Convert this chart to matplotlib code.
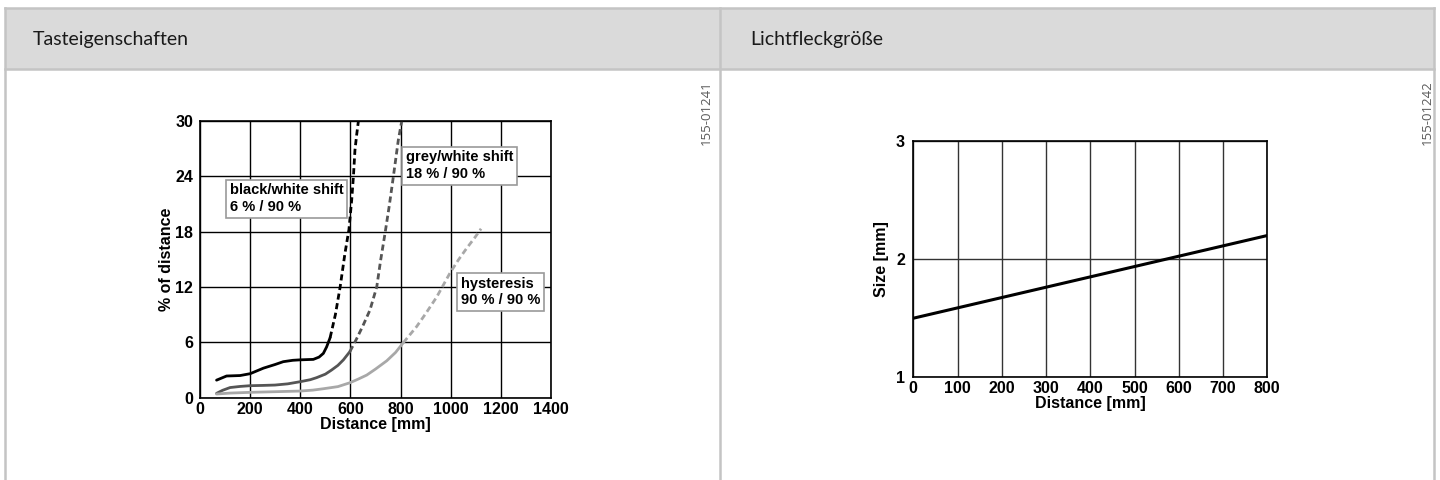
import matplotlib
matplotlib.use("Agg")
import matplotlib.pyplot as plt
from matplotlib.patches import Rectangle
from matplotlib.lines import Line2D

# ---------------- data ----------------
# Tasteigenschaften (left chart)
bw_x = [66, 106, 160, 200, 253, 300, 332, 370, 399, 452, 475, 492, 505, 519]
bw_y = [1.9, 2.35, 2.4, 2.6, 3.2, 3.6, 3.9, 4.05, 4.1, 4.15, 4.4, 4.8, 5.5, 6.5]
bw_dx = [519, 540, 559, 578, 594, 605, 612, 618, 625, 632]
bw_dy = [6.5, 9.0, 12.0, 15.6, 18.2, 21.4, 24.0, 26.8, 28.5, 30.0]

gw_x = [66, 90, 120, 160, 200, 250, 299, 350, 399, 440, 465, 500, 525, 550, 572, 598]
gw_y = [0.47, 0.8, 1.1, 1.22, 1.3, 1.33, 1.37, 1.5, 1.73, 1.95, 2.17, 2.55, 3.0, 3.5, 4.1, 5.0]
gw_dx = [598, 625, 650, 678, 705, 720, 738, 755, 771, 791, 805]
gw_dy = [5.0, 6.4, 7.8, 9.5, 12.0, 14.8, 17.8, 20.8, 23.9, 27.9, 30.0]

hy_x = [66, 120, 200, 300, 399, 450, 492, 550, 598, 630, 665, 700, 745, 780, 811]
hy_y = [0.4, 0.5, 0.58, 0.65, 0.72, 0.82, 0.97, 1.2, 1.62, 2.0, 2.45, 3.1, 4.0, 4.9, 5.96]
hy_dx = [811, 864, 900, 944, 997, 1030, 1064, 1095, 1121]
hy_dy = [5.96, 7.7, 9.1, 10.9, 13.5, 14.9, 16.2, 17.3, 18.3]

left_xticks = [0, 200, 400, 600, 800, 1000, 1200, 1400]
left_yticks = [0, 6, 12, 18, 24, 30]

labels = ["black/white shift\n6 % / 90 %",
          "grey/white shift\n18 % / 90 %",
          "hysteresis\n90 % / 90 %"]
label_pos = [(120, 23.2), (820, 26.8), (1040, 13.1)]

# Lichtfleckgröße (right chart)
spot_x = [0, 800]
spot_y = [1.5, 2.2]
right_xticks = [0, 100, 200, 300, 400, 500, 600, 700, 800]
right_yticks = [1, 2, 3]

headers = ["Tasteigenschaften", "Lichtfleckgröße"]
codes = ["155-01241", "155-01242"]

# ---------------- style ----------------
plt.rcParams["font.family"] = ["Liberation Sans", "DejaVu Sans"]
plt.rcParams["font.weight"] = "bold"
plt.rcParams["axes.labelweight"] = "bold"

# ---------------- figure ----------------
W, H = 1440, 480
fig = plt.figure(figsize=(W / 100, H / 100), dpi=100)
fig.patch.set_facecolor("white")

def fx(x):
    return x / W

def fy(y):
    return 1 - y / H

border = "#c4c4c4"
fig.add_artist(Rectangle((fx(5), fy(69)), fx(1434) - fx(5), fy(8) - fy(69),
                         transform=fig.transFigure, facecolor="#dadada",
                         edgecolor="none", zorder=0))
for (x0, y0, x1, y1) in [(5, 8, 1434, 8), (5, 69, 1434, 69), (5, 8, 5, 480),
                         (720, 8, 720, 480), (1434, 8, 1434, 480)]:
    fig.add_artist(Line2D([fx(x0), fx(x1)], [fy(y0), fy(y1)],
                          transform=fig.transFigure, color=border, lw=1.8, zorder=1))

hfont = dict(family=["Lato", "DejaVu Sans"], fontsize=14, weight="normal", color="#1a1a1a")
fig.text(fx(33), fy(39), headers[0], va="center", ha="left", **hfont)
fig.text(fx(750), fy(39), headers[1], va="center", ha="left", **hfont)

cfont = dict(family=["Open Sans", "DejaVu Sans"], fontsize=9.5, weight="normal",
             color="#5a5a5a", rotation=90, va="top", ha="center")
fig.text(fx(706), fy(80), codes[0], **cfont)
fig.text(fx(1427), fy(80), codes[1], **cfont)

# ---------------- left chart ----------------
axL = fig.add_axes([fx(200), fy(397.7), fx(551) - fx(200), fy(120.7) - fy(397.7)])
axL.set_xlim(0, 1400)
axL.set_ylim(0, 30)
axL.set_xticks(left_xticks)
axL.set_yticks(left_yticks)
axL.grid(True, color="black", lw=1.0)
axL.set_axisbelow(True)
axL.tick_params(length=0, labelsize=11.5)
axL.tick_params(axis="x", pad=3)
axL.tick_params(axis="y", pad=5)
for s in axL.spines.values():
    s.set_linewidth(1.2)

axL.plot(bw_x, bw_y, color="black", lw=2.0, solid_capstyle="round")
axL.plot(bw_dx, bw_dy, color="black", lw=2.0, dashes=(2.2, 1.3))
axL.plot(gw_x, gw_y, color="#555555", lw=2.0, solid_capstyle="round")
axL.plot(gw_dx, gw_dy, color="#555555", lw=2.0, dashes=(2.2, 1.3))
axL.plot(hy_x, hy_y, color="#a8a8a8", lw=2.0, solid_capstyle="round")
axL.plot(hy_dx, hy_dy, color="#a8a8a8", lw=2.0, dashes=(2.2, 1.3))

for txt, (tx, ty) in zip(labels, label_pos):
    axL.text(tx, ty, txt, ha="left", va="top", fontsize=10.5, linespacing=1.25,
             bbox=dict(boxstyle="square,pad=0.25", facecolor="white",
                       edgecolor="#9a9a9a", lw=1.2), zorder=5)

axL.set_xlabel("Distance [mm]", fontsize=11.5, labelpad=0)
axL.set_ylabel("% of distance", fontsize=11.5, labelpad=1)

# ---------------- right chart ----------------
axR = fig.add_axes([fx(913.3), fy(377.3), fx(1267.3) - fx(913.3), fy(141) - fy(377.3)])
axR.set_xlim(0, 800)
axR.set_ylim(1, 3)
axR.set_xticks(right_xticks)
axR.set_yticks(right_yticks)
axR.grid(True, color="#333333", lw=1.0)
axR.set_axisbelow(True)
axR.tick_params(length=0, labelsize=11.5)
axR.tick_params(axis="x", pad=3)
axR.tick_params(axis="y", pad=6)
for s in axR.spines.values():
    s.set_linewidth(1.2)
axR.plot(spot_x, spot_y, color="black", lw=2.2)
axR.set_xlabel("Distance [mm]", fontsize=11.5, labelpad=0)
axR.set_ylabel("Size [mm]", fontsize=11.5, labelpad=5)

fig.savefig("out.png", dpi=100)
